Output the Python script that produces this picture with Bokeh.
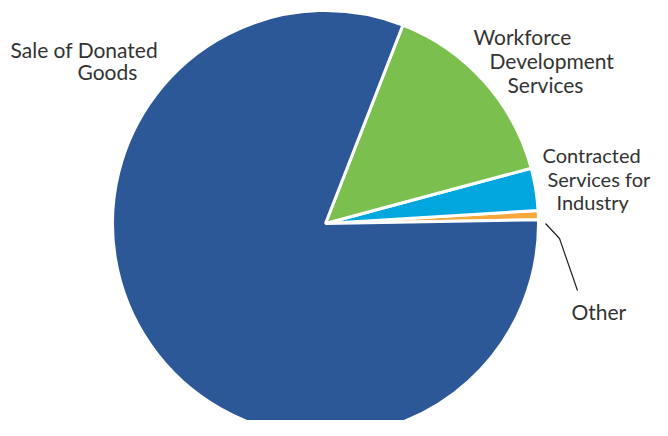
import math
from bokeh.plotting import figure
from bokeh.models import Range1d, ColumnDataSource
from bokeh.core.properties import value
from bokeh.embed import file_html
from bokeh.resources import INLINE

# Data (percent shares), in drawing order counter-clockwise from east
categories = ["Other", "Contracted Services for Industry", "Workforce Development Services", "Sale of Donated Goods"]
shares = [0.7, 3.2, 14.9, 81.2]
colors = ["#F8A73B", "#00A7DF", "#7BBF4F", "#2C5898"]

# label lines per category
label_lines = {
    "Sale of Donated Goods": ["Sale of Donated", "Goods"],
    "Workforce Development Services": ["Workforce", "Development", "Services"],
    "Contracted Services for Industry": ["Contracted", "Services for", "Industry"],
    "Other": ["Other"],
}
# label line anchors (screen px, left x, baseline y, font px)
label_pos = {
    "Sale of Donated Goods": [(10, 56, 21), (77, 78, 21)],
    "Workforce Development Services": [(473, 43, 21), (489, 67, 21), (507, 91, 21)],
    "Contracted Services for Industry": [(542, 161, 20), (547, 185, 20), (556, 208, 20)],
    "Other": [(571, 318, 21)],
}
TEXT_SHIFT = 7  # rendered text sits lower than the nominal baseline

W, H = 652, 420
cx, cy, r = 325, 223, 213
start_offset = 1.0

def sy(y):
    return 436 - y

p = figure(width=W, height=H, output_backend="svg", toolbar_location=None,
           x_range=Range1d(0, W), y_range=Range1d(436 - H, 436),
           min_border=0)
p.axis.visible = False
p.grid.visible = False
p.outline_line_color = None
p.background_fill_color = "white"
p.border_fill_color = "white"

total = sum(shares)
starts, ends = [], []
acc = start_offset
for s in shares:
    starts.append(math.radians(acc))
    acc += s / total * 360.0
    ends.append(math.radians(acc))

src = ColumnDataSource(dict(x=[cx] * len(shares), y=[sy(cy)] * len(shares),
                            start=starts, end=ends, color=colors, cat=categories))
p.wedge(x="x", y="y", radius=r, start_angle="start", end_angle="end",
        fill_color="color", line_color="white", line_width=3, source=src)

# leader line for "Other"
p.line(x=[545, 559, 577], y=[sy(223), sy(238), sy(290)], line_color="#222222", line_width=1.2)

tx, ty, tt, fs = [], [], [], []
for cat in categories:
    for line, (lx, ly, f) in zip(label_lines[cat], label_pos[cat]):
        tx.append(lx)
        ty.append(sy(ly - TEXT_SHIFT))
        tt.append(line)
        fs.append(f"{f}px")
p.text(x=tx, y=ty, text=tt, text_font=value("Lato"), text_font_size=fs,
       text_color="#333333", text_align="left", text_baseline="alphabetic")

open("out.html", "w").write(file_html(p, INLINE))
